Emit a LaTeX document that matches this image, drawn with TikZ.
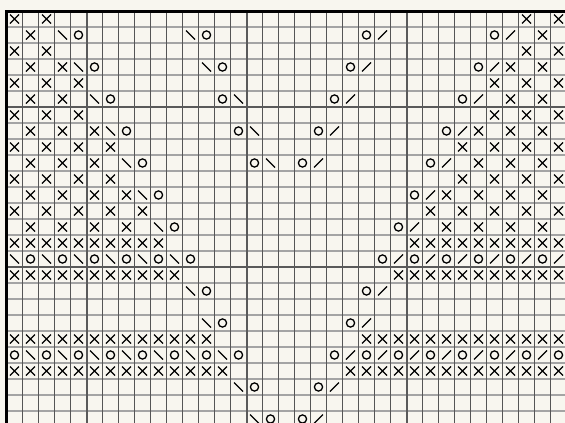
\documentclass[tikz,border=0pt]{standalone}
\definecolor{bgc}{HTML}{F8F6EF}
\definecolor{vminc}{HTML}{555555}
\definecolor{hminc}{HTML}{A4A4A4}
\definecolor{majc}{HTML}{5A5A5A}
\tikzset{
  sym/.style={line width=1.3pt,black},
  hmin/.style={line width=1.8pt,hminc},
  vmin/.style={line width=1pt,vminc},
  major/.style={line width=2pt,majc},
  border/.style={line width=3pt,black},
}
\newcommand\knitX[2]{\foreach \c in {#2}{\draw[sym,shift={({14.5+16*\c},{19+16*#1})}] (-4.5,-4.5) -- (4.5,4.5) (-4.5,4.5) -- (4.5,-4.5);}}
\newcommand\knitB[2]{\foreach \c in {#2}{\draw[sym,shift={({14.5+16*\c},{19+16*#1})}] (-4.5,-4.5) -- (4.5,4.5);}}
\newcommand\knitF[2]{\foreach \c in {#2}{\draw[sym,shift={({14.5+16*\c},{19+16*#1})}] (-4.5,4.5) -- (4.5,-4.5);}}
\newcommand\knitO[2]{\foreach \c in {#2}{\draw[sym,shift={({14.5+16*\c},{19+16*#1})}] (0,0) circle[radius=4.1];}}
\begin{document}
\begin{tikzpicture}[x=1pt,y=-1pt]
\useasboundingbox (0,0) rectangle (565,423);
\fill[bgc] (0,0) rectangle (565,423);
\begin{scope}
\clip (0,0) rectangle (565,423);
\foreach \r in {1,...,25} \draw[hmin] (6.5,{11+16*\r}) -- (565,{11+16*\r});
\foreach \c in {1,...,34} \draw[vmin] ({6.5+16*\c},11) -- ({6.5+16*\c},423);
\foreach \r in {6,16} \draw[major] (6.5,{11+16*\r}) -- (565,{11+16*\r});
\foreach \c in {5,15,25} \draw[major] ({6.5+16*\c},11) -- ({6.5+16*\c},423);
\draw[border] (6,423) -- (6,11) -- (565,11);
\knitX{0}{0,2,32,34}
\knitX{1}{1,33} \knitB{1}{3,11} \knitO{1}{4,12,22,30} \knitF{1}{23,31}
\knitX{2}{0,2,32,34}
\knitX{3}{1,3,31,33} \knitB{3}{4,12} \knitO{3}{5,13,21,29} \knitF{3}{22,30}
\knitX{4}{0,2,4,30,32,34}
\knitX{5}{1,3,31,33} \knitB{5}{5,14} \knitO{5}{6,13,20,28} \knitF{5}{21,29}
\knitX{6}{0,2,4,30,32,34}
\knitX{7}{1,3,5,29,31,33} \knitB{7}{6,15} \knitO{7}{7,14,19,27} \knitF{7}{20,28}
\knitX{8}{0,2,4,6,28,30,32,34}
\knitX{9}{1,3,5,29,31,33} \knitB{9}{7,16} \knitO{9}{8,15,18,26} \knitF{9}{19,27}
\knitX{10}{0,2,4,6,28,30,32,34}
\knitX{11}{1,3,5,7,27,29,31,33} \knitB{11}{8} \knitO{11}{9,25} \knitF{11}{26}
\knitX{12}{0,2,4,6,8,26,28,30,32,34}
\knitX{13}{1,3,5,7,27,29,31,33} \knitB{13}{9} \knitO{13}{10,24} \knitF{13}{25}
\knitX{14}{0,...,9} \knitX{14}{25,...,34}
\knitB{15}{0,2,...,10} \knitO{15}{1,3,...,11} \knitO{15}{23,25,...,33} \knitF{15}{24,26,...,34}
\knitX{16}{0,...,10} \knitX{16}{24,...,34}
\knitB{17}{11} \knitO{17}{12,22} \knitF{17}{23}
\knitB{19}{12} \knitO{19}{13,21} \knitF{19}{22}
\knitX{20}{0,...,12} \knitX{20}{22,...,34}
\knitO{21}{0,2,...,14} \knitB{21}{1,3,...,13} \knitO{21}{20,22,...,34} \knitF{21}{21,23,...,33}
\knitX{22}{0,...,13} \knitX{22}{21,...,34}
\knitB{23}{14} \knitO{23}{15,19} \knitF{23}{20}
\knitB{25}{15} \knitO{25}{16,18} \knitF{25}{19}
\end{scope}
\end{tikzpicture}
\end{document}
